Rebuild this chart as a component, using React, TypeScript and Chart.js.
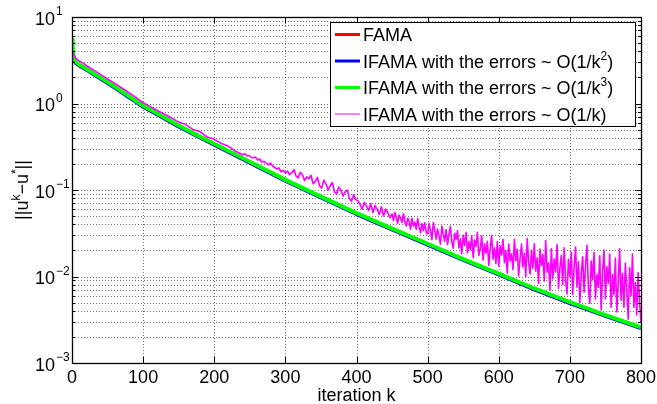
import React, { useEffect, useRef } from "react";
import { Chart, registerables } from "chart.js";

Chart.register(...registerables);

// ---------- data ----------
const lineK = [0, 2, 5, 10, 20, 30, 40, 50, 60, 70, 80, 90, 100, 125, 150, 175, 200, 250, 300, 350, 400, 450, 500, 550, 600, 650, 700, 750, 800];
const famaVals = [3.5, 3.2, 3.0, 2.8, 2.5, 2.22, 1.97, 1.75, 1.55, 1.37, 1.2, 1.06, 0.93, 0.72, 0.55, 0.43, 0.34, 0.21, 0.13, 0.083, 0.0535, 0.0355, 0.0237, 0.0158, 0.0107, 0.0072, 0.005, 0.00355, 0.00257];
const ifamaK2Vals = [3.43, 3.14, 2.94, 2.74, 2.45, 2.18, 1.93, 1.715, 1.52, 1.34, 1.175, 1.04, 0.91, 0.705, 0.539, 0.421, 0.333, 0.206, 0.1275, 0.0813, 0.0524, 0.0348, 0.0232, 0.0155, 0.01049, 0.00706, 0.0049, 0.00348, 0.00252];

const greenK = [0, 1, 2, 3, 5, 10, 20, 30, 40, 50, 60, 70, 80, 90, 100, 125, 150, 175, 200, 250, 300, 350, 400, 450, 500, 550, 600, 650, 700, 750, 800];
const ifamaK3Vals = [5.5, 4.4, 3.7, 3.3, 3.05, 2.82, 2.52, 2.24, 1.99, 1.77, 1.57, 1.38, 1.21, 1.07, 0.94, 0.727, 0.556, 0.434, 0.343, 0.212, 0.131, 0.0838, 0.054, 0.0358, 0.0239, 0.0159, 0.0108, 0.00727, 0.00505, 0.00358, 0.00259];

// O(1/k) errors: smooth start, then noisy
const magentaHeadK = [0, 3, 6, 10, 15, 20, 30, 40, 50, 60, 70, 80, 90, 100, 110, 120, 130, 140, 150, 160, 170, 180, 190, 200, 210, 220, 230];
const magentaHeadVals = [4.0, 3.55, 3.3, 3.1, 2.95, 2.75, 2.45, 2.17, 1.92, 1.71, 1.51, 1.33, 1.17, 1.02, 0.92, 0.83, 0.75, 0.68, 0.61, 0.57, 0.5, 0.47, 0.41, 0.385, 0.345, 0.32, 0.28];
const magentaMidStart = 240;
const magentaMidStep = 3;
const magentaMidVals = [
  0.255, 0.262, 0.248, 0.25, 0.238, 0.236, 0.24, 0.222, 0.228, 0.21, 0.215, 0.205, 0.195, 0.205, 0.19, 0.182, 0.175, 0.18, 0.162, 0.168, 0.158,
  0.165, 0.15, 0.158, 0.172, 0.145, 0.138, 0.16, 0.15, 0.128, 0.142, 0.135, 0.148, 0.118, 0.126, 0.14, 0.112, 0.105, 0.13, 0.118, 0.1, 0.112, 0.122, 0.095, 0.09, 0.108, 0.1, 0.085, 0.095, 0.1, 0.08, 0.074, 0.088, 0.078,
  0.075, 0.068, 0.06, 0.072, 0.065, 0.058, 0.07, 0.055, 0.066, 0.06, 0.052, 0.064, 0.05, 0.06, 0.055, 0.048,
];
const magentaTailStart = 450;
const magentaTailStep = 2;
const magentaTailVals = [
  0.0528, 0.0447, 0.055, 0.0478, 0.0413, 0.0514, 0.0474, 0.0422, 0.0532, 0.0425, 0.0383, 0.0471, 0.0432, 0.0352, 0.0472, 0.0383, 0.0426, 0.0351, 0.0469, 0.0377, 0.0321, 0.0408, 0.0339, 0.0417, 0.0322,
  0.0311, 0.041, 0.0337, 0.0267, 0.042, 0.0343, 0.027, 0.0353, 0.0294, 0.0237, 0.0382, 0.0308, 0.0255, 0.0348, 0.0233, 0.0311, 0.038, 0.0252, 0.0213, 0.0316, 0.0266, 0.0339, 0.0214, 0.0273, 0.0182,
  0.0299, 0.0228, 0.0325, 0.0188, 0.0253, 0.0203, 0.0297, 0.0165, 0.0263, 0.0224, 0.0324, 0.0175, 0.0209, 0.0296, 0.0155, 0.0238, 0.0185, 0.0255, 0.0134, 0.0212, 0.0297, 0.0159, 0.0215, 0.0142, 0.0254,
  0.0132, 0.0226, 0.0177, 0.027, 0.0144, 0.0199, 0.0109, 0.0238, 0.0151, 0.0183, 0.012, 0.027, 0.0151, 0.0206, 0.0102, 0.0163, 0.0237, 0.0128, 0.0187, 0.01, 0.0274, 0.0145, 0.0107, 0.0202, 0.0125,
  0.0239, 0.0115, 0.0164, 0.0083, 0.0207, 0.0133, 0.018, 0.0089, 0.0261, 0.0112, 0.0144, 0.0069, 0.0211, 0.0094, 0.0159, 0.0113, 0.0236, 0.0073, 0.0125, 0.0176, 0.0081, 0.0215, 0.0091, 0.0063, 0.0158,
  0.0099, 0.0191, 0.0062, 0.013, 0.0219, 0.0075, 0.0148, 0.005, 0.0107, 0.0169, 0.0066, 0.0133, 0.023, 0.0075, 0.0049, 0.0151, 0.0092, 0.0191, 0.0055, 0.0106, 0.0075, 0.0173, 0.0041, 0.0112, 0.0202,
  0.0055, 0.013, 0.0083, 0.0182, 0.0044, 0.0106, 0.0061, 0.0163, 0.0039, 0.0085, 0.0209, 0.0053, 0.0109, 0.0044, 0.0142, 0.0067, 0.0032, 0.0127, 0.006, 0.0182, 0.0044, 0.0085, 0.0036, 0.0111, 0.0051,
  0.0029,
];

const xTickVals = [0, 100, 200, 300, 400, 500, 600, 700, 800];
const yExponents = [-3, -2, -1, 0, 1];
const yMinorMultipliers = [1, 2, 3, 4, 5, 6, 7, 8, 9];
const xTitle = "iteration k";

const legendItems = [
  { color: "#ff0000", width: 3, parts: [{ t: "FAMA" }] },
  { color: "#0000ff", width: 3, parts: [{ t: "IFAMA with the errors ~ O(1/k" }, { t: "2", sup: true }, { t: ")" }] },
  { color: "#00ff00", width: 3, parts: [{ t: "IFAMA with the errors ~ O(1/k" }, { t: "3", sup: true }, { t: ")" }] },
  { color: "#ff00ff", width: 1, parts: [{ t: "IFAMA with the errors ~ O(1/k)" }] },
];
const yTitleParts = [{ t: "||u" }, { t: "k", sup: true }, { t: "\u2212u" }, { t: "*", sup: true }, { t: "||" }];

// ---------- drawing helpers ----------
const FONT = '"Liberation Sans", Arial, Helvetica, sans-serif';
const F_MAIN = `18px ${FONT}`;
const F_SUP = `12px ${FONT}`;

type Part = { t: string; sup?: boolean };

function richWidth(ctx: CanvasRenderingContext2D, parts: Part[]) {
  let w = 0;
  for (const p of parts) {
    ctx.font = p.sup ? F_SUP : F_MAIN;
    w += ctx.measureText(p.t).width;
  }
  return w;
}

function drawRich(ctx: CanvasRenderingContext2D, parts: Part[], x: number, y: number) {
  let cx = x;
  ctx.textAlign = "left";
  ctx.textBaseline = "alphabetic";
  for (const p of parts) {
    ctx.font = p.sup ? F_SUP : F_MAIN;
    ctx.fillText(p.t, cx, p.sup ? y - 8 : y);
    cx += ctx.measureText(p.t).width;
  }
}

const decor = {
  id: "decor",
  beforeDatasetsDraw(chart: any) {
    const { ctx, chartArea: a, scales } = chart;
    const xs = scales.x;
    const ys = scales.y;
    ctx.save();
    ctx.lineWidth = 1;
    ctx.strokeStyle = "rgba(0,0,0,0.55)";
    ctx.setLineDash([1, 2]);
    ctx.beginPath();
    for (const t of xTickVals) {
      if (t <= xs.min || t >= xs.max) continue;
      const px = Math.round(xs.getPixelForValue(t)) + 0.5;
      ctx.moveTo(px, a.top);
      ctx.lineTo(px, a.bottom);
    }
    for (const e of yExponents) {
      for (const m of yMinorMultipliers) {
        const v = m * Math.pow(10, e);
        if (v <= ys.min * 1.0001 || v >= ys.max * 0.9999) continue;
        const py = Math.round(ys.getPixelForValue(v)) + 0.5;
        ctx.moveTo(a.left, py);
        ctx.lineTo(a.right, py);
      }
    }
    ctx.stroke();
    ctx.restore();
  },
  afterDatasetsDraw(chart: any) {
    const { ctx, chartArea: a, scales } = chart;
    const xs = scales.x;
    const ys = scales.y;
    ctx.save();
    ctx.setLineDash([]);
    ctx.strokeStyle = "#000";
    ctx.fillStyle = "#000";
    ctx.lineWidth = 1;

    // ticks
    ctx.beginPath();
    for (const t of xTickVals) {
      const px = Math.round(xs.getPixelForValue(t)) + 0.5;
      ctx.moveTo(px, a.bottom);
      ctx.lineTo(px, a.bottom - 6);
      ctx.moveTo(px, a.top);
      ctx.lineTo(px, a.top + 6);
    }
    for (const e of yExponents) {
      for (const m of yMinorMultipliers) {
        const v = m * Math.pow(10, e);
        if (v < ys.min * 0.9999 || v > ys.max * 1.0001) continue;
        const len = m === 1 ? 6 : 3;
        const py = Math.round(ys.getPixelForValue(v)) + 0.5;
        ctx.moveTo(a.left, py);
        ctx.lineTo(a.left + len, py);
        ctx.moveTo(a.right, py);
        ctx.lineTo(a.right - len, py);
      }
    }
    ctx.stroke();

    // axes box
    ctx.lineWidth = 1.3;
    ctx.strokeRect(Math.round(a.left) + 0.5, Math.round(a.top) + 0.5, Math.round(a.right - a.left), Math.round(a.bottom - a.top));

    // x tick labels
    ctx.font = F_MAIN;
    ctx.textAlign = "center";
    ctx.textBaseline = "alphabetic";
    for (const t of xTickVals) {
      ctx.fillText(String(t), xs.getPixelForValue(t), a.bottom + 20);
    }
    // x title
    ctx.fillText(xTitle, (a.left + a.right) / 2, a.bottom + 38);

    // y tick labels 10^e
    for (const e of yExponents) {
      const py = ys.getPixelForValue(Math.pow(10, e));
      const ex = e < 0 ? "\u2212" + String(-e) : String(e);
      ctx.font = F_MAIN;
      ctx.textAlign = "left";
      ctx.textBaseline = "alphabetic";
      ctx.fillText("10", a.left - 37, py + 7.5);
      ctx.font = F_SUP;
      ctx.fillText(ex, a.left - 16, py - 2);
    }

    // y title (rotated)
    ctx.save();
    ctx.translate(28, (a.top + a.bottom) / 2);
    ctx.rotate(-Math.PI / 2);
    const tw = richWidth(ctx, yTitleParts);
    drawRich(ctx, yTitleParts, -tw / 2, 0);
    ctx.restore();

    // legend
    const lx = 330.5;
    const ly = 22.5;
    const lw = 305;
    const lh = 104;
    ctx.fillStyle = "#fff";
    ctx.fillRect(lx, ly, lw, lh);
    ctx.strokeStyle = "#000";
    ctx.lineWidth = 1;
    ctx.strokeRect(lx, ly, lw, lh);
    legendItems.forEach((it, i) => {
      const ry = 34.5 + i * 26.5;
      ctx.strokeStyle = it.color;
      ctx.lineWidth = it.width;
      ctx.beginPath();
      ctx.moveTo(335, ry);
      ctx.lineTo(360, ry);
      ctx.stroke();
      ctx.fillStyle = "#000";
      drawRich(ctx, it.parts, 363, ry + 6.5);
    });
    ctx.restore();
  },
};

export default function App() {
  const ref = useRef<HTMLCanvasElement>(null);
  useEffect(() => {
    const canvas = ref.current;
    if (!canvas) return;
    const famaPts = lineK.map((k, i) => ({ x: k, y: famaVals[i] }));
    const k2Pts = lineK.map((k, i) => ({ x: k, y: ifamaK2Vals[i] }));
    const k3Pts = greenK.map((k, i) => ({ x: k, y: ifamaK3Vals[i] }));
    const kPts = [
      ...magentaHeadK.map((k, i) => ({ x: k, y: magentaHeadVals[i] })),
      ...magentaMidVals.map((v, i) => ({ x: magentaMidStart + i * magentaMidStep, y: v })),
      ...magentaTailVals.map((v, i) => ({ x: magentaTailStart + i * magentaTailStep, y: v })),
    ];
    const common = { pointRadius: 0, tension: 0, fill: false, borderJoinStyle: "round" as const };
    const chart = new Chart(canvas, {
      type: "line",
      data: {
        datasets: [
          { label: "IFAMA with the errors ~ O(1/k)", data: kPts, borderColor: "#ff00ff", borderWidth: 1.6, ...common },
          { label: "IFAMA with the errors ~ O(1/k^3)", data: k3Pts, borderColor: "#00ff00", borderWidth: 4, ...common },
          { label: "IFAMA with the errors ~ O(1/k^2)", data: k2Pts, borderColor: "#0000ff", borderWidth: 3.5, ...common },
          { label: "FAMA", data: famaPts, borderColor: "#ff0000", borderWidth: 3.5, ...common },
        ],
      },
      options: {
        animation: false,
        responsive: false,
        devicePixelRatio: 1,
        events: [],
        layout: { padding: { left: 72, top: 17, right: 16, bottom: 41 } },
        plugins: { legend: { display: false }, tooltip: { enabled: false } },
        scales: {
          x: { type: "linear", min: 0, max: 800, display: false },
          y: { type: "logarithmic", min: 0.001, max: 10, display: false },
        },
      },
      plugins: [decor],
    });
    return () => chart.destroy();
  }, []);
  return (
    <div style={{ position: "fixed", left: 0, top: 0, width: 657, height: 404, background: "#fff" }}>
      <canvas ref={ref} width={657} height={404} style={{ display: "block", width: 657, height: 404 }} />
    </div>
  );
}
